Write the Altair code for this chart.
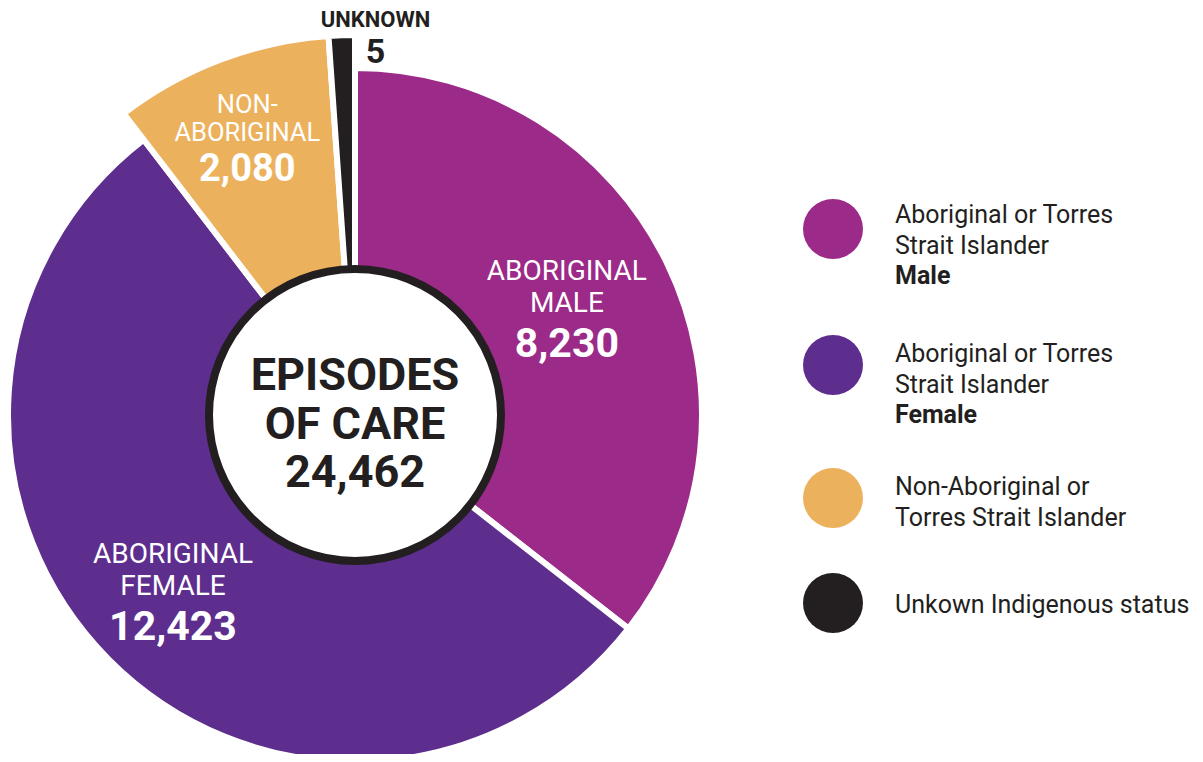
import altair as alt
import pandas as pd

# ---------------- data ----------------
categories = ["Aboriginal Male", "Aboriginal Female", "Non-Aboriginal", "Unknown"]
episodes = [8230, 12423, 2080, 5]
# angular share of each slice as drawn in the original (degrees)
arc_degrees = [128.0, 194.5, 33.5, 4.0]
slice_line1 = ["ABORIGINAL", "ABORIGINAL", "NON-", ""]
slice_line2 = ["MALE", "FEMALE", "ABORIGINAL", "UNKNOWN"]
legend_lines = [
    "Aboriginal or Torres\nStrait Islander",
    "Aboriginal or Torres\nStrait Islander",
    "Non-Aboriginal or\nTorres Strait Islander",
    "Unkown Indigenous status",
]
legend_bold = ["Male", "Female", "", ""]
center_title = ["EPISODES", "OF CARE"]
total_episodes = 24462

# ---------------- styles ----------------
colors = ["#9C2A88", "#5E2E8E", "#ECB15C", "#231F20"]
ring_of_slice = [0, 0, 1, 1]          # which outer radius each slice uses
ring_radius = [347, 380]
legend_circle_y = [221, 357, 490, 595]
legend_text_y = [215, 354, 487, 605]
DARK = "#231F20"
FONT = "Roboto"
CX, CY = 347, 407  # pie centre inside the plot area

# per-label style: radius of anchor, font sizes, line offsets, colour, weight, dx
label_style = [
    dict(r=235.7, nfs=28, numfs=41, d1=-32, dnum=45, color="white", w="normal", dx=0),
    dict(r=256.3, nfs=28, numfs=41, d1=-32, dnum=45, color="white", w="normal", dx=0),
    dict(r=292.7, nfs=25.5, numfs=38, d1=-28, dnum=40, color="white", w="normal", dx=-4),
    dict(r=388.0, nfs=22, numfs=34, d1=-28, dnum=36, color=DARK, w="bold", dx=34),
]

df = pd.DataFrame({
    "idx": list(range(len(categories))),
    "cat": categories,
    "deg": arc_degrees,
    "col": colors,
    "l1": slice_line1,
    "l2": slice_line2,
    "num": [f"{v:,}" for v in episodes],
    "leg": legend_lines,
    "legb": legend_bold,
    "cy": legend_circle_y,
    "ty": legend_text_y,
})
for k in range(len(ring_radius)):
    df[f"fill{k}"] = [c if g == k else "transparent" for c, g in zip(colors, ring_of_slice)]
    df[f"stroke{k}"] = ["white" if g == k else "transparent" for g in ring_of_slice]

base = alt.Chart(df).encode(
    theta=alt.Theta("deg:Q", stack=True),
    order=alt.Order("idx:Q"),
    detail="cat:N",
    x=alt.value(CX),
    y=alt.value(CY),
)

layers = []
for k, rr in enumerate(ring_radius):
    layers.append(
        base.mark_arc(innerRadius=100, strokeWidth=6).encode(
            fill=alt.Fill(f"fill{k}:N", scale=None),
            stroke=alt.Stroke(f"stroke{k}:N", scale=None),
            radius=alt.value(rr),
        )
    )

center_df = pd.DataFrame({"txt": ["\n".join(center_title + [f"{total_episodes:,}"])]})
# Vega circle symbols: diameter = sqrt(size)
center_circle = alt.Chart(center_df).mark_circle(
    size=292 ** 2, fill="white", stroke=DARK, strokeWidth=8, opacity=1
).encode(x=alt.value(CX), y=alt.value(CY))
layers.append(center_circle)

for i, st in enumerate(label_style):
    for field, dy, fs, weight in [
        ("l1", st["d1"], st["nfs"], st["w"]),
        ("l2", 0, st["nfs"], st["w"]),
        ("num", st["dnum"], st["numfs"], "bold"),
    ]:
        layers.append(
            base.transform_calculate(t=f"datum.idx == {i} ? datum.{field} : ''")
            .mark_text(font=FONT, fontSize=fs, fontWeight=weight, align="center",
                       baseline="alphabetic", dx=st["dx"], dy=dy, color=st["color"])
            .encode(text="t:N", radius=alt.value(st["r"]))
        )

center_text = alt.Chart(center_df).mark_text(
    font=FONT, fontWeight="bold", fontSize=45, color=DARK, align="center",
    baseline="alphabetic", lineBreak="\n", lineHeight=48.5, dy=-25
).encode(x=alt.value(CX), y=alt.value(CY), text="txt:N")
layers.append(center_text)

leg_base = alt.Chart(df)
leg_circles = leg_base.mark_circle(size=60 ** 2, opacity=1).encode(
    x=alt.value(825),
    y=alt.Y("cy:Q", scale=None, axis=None),
    color=alt.Color("col:N", scale=None),
)
leg_text = leg_base.mark_text(
    font=FONT, fontSize=25, color=DARK, align="left", baseline="alphabetic",
    lineBreak="\n", lineHeight=30.5
).encode(x=alt.value(887), y=alt.Y("ty:Q", scale=None, axis=None), text="leg:N")
leg_bold = leg_base.mark_text(
    font=FONT, fontSize=25, fontWeight="bold", color=DARK, align="left",
    baseline="alphabetic", dy=61
).encode(x=alt.value(887), y=alt.Y("ty:Q", scale=None, axis=None), text="legb:N")
layers += [leg_circles, leg_text, leg_bold]

chart = alt.layer(*layers).properties(
    width=1185, height=746, padding=0, autosize=alt.AutoSizeParams(type="none"),
    background="white"
).configure_view(stroke=None)

chart.save("out.html", embed_options={"renderer": "svg", "actions": False})
